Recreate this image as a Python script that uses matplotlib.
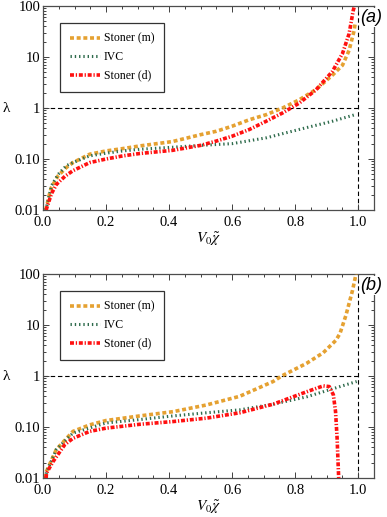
import matplotlib
matplotlib.use("Agg")
import matplotlib.pyplot as plt
from matplotlib.ticker import FixedLocator, FixedFormatter, MultipleLocator, LogLocator, NullFormatter

plt.rcParams['font.family'] = ['Liberation Serif', 'DejaVu Serif']
plt.rcParams['mathtext.fontset'] = 'stix'

# ---- data: panel (a) ----
a_m_x = [0.008, 0.012, 0.02, 0.027, 0.048, 0.074, 0.095, 0.148, 0.2, 0.253, 0.306, 0.411, 0.5, 0.55, 0.6,
         0.655, 0.708, 0.76, 0.813, 0.866, 0.918, 0.95, 0.971, 0.987, 0.99]
a_m_y = [0.01, 0.012, 0.02, 0.028, 0.047, 0.068, 0.085, 0.124, 0.144, 0.16, 0.18, 0.22, 0.30, 0.35, 0.44,
         0.59, 0.74, 1.0, 1.45, 2.3, 4.4, 6.9, 13.5, 33, 45]
a_i_x = [0.008, 0.012, 0.027, 0.048, 0.074, 0.095, 0.148, 0.2, 0.253, 0.306, 0.411, 0.5, 0.6, 0.708,
         0.813, 0.918, 0.99]
a_i_y = [0.01, 0.012, 0.03, 0.05, 0.074, 0.085, 0.115, 0.13, 0.144, 0.155, 0.17, 0.185, 0.20, 0.26,
         0.38, 0.55, 0.74]
a_d_x = [0.01, 0.012, 0.027, 0.043, 0.07, 0.095, 0.148, 0.2, 0.253, 0.306, 0.411, 0.5, 0.55, 0.6, 0.655,
         0.708, 0.76, 0.813, 0.866, 0.918, 0.95, 0.971, 0.984, 0.988]
a_d_y = [0.01, 0.011, 0.021, 0.032, 0.046, 0.059, 0.085, 0.10, 0.115, 0.128, 0.148, 0.185, 0.225, 0.28,
         0.38, 0.55, 0.80, 1.25, 2.27, 5.2, 11.7, 28.6, 81, 100]

# ---- data: panel (b) ----
b_m_x = [0.008, 0.011, 0.042, 0.095, 0.148, 0.2, 0.307, 0.413, 0.518, 0.624, 0.73, 0.757, 0.836, 0.889,
         0.929, 0.942, 0.961, 0.982, 0.993]
b_m_y = [0.01, 0.0135, 0.036, 0.082, 0.11, 0.134, 0.165, 0.20, 0.27, 0.40, 0.78, 1.0, 1.77, 2.86,
         5.0, 6.8, 15.5, 48, 100]
b_i_x = [0.008, 0.011, 0.042, 0.095, 0.2, 0.307, 0.413, 0.518, 0.624, 0.73, 0.836, 0.942, 0.995]
b_i_y = [0.01, 0.013, 0.036, 0.076, 0.12, 0.14, 0.165, 0.19, 0.217, 0.28, 0.39, 0.62, 0.78]
b_d_x = [0.01, 0.011, 0.032, 0.069, 0.095, 0.148, 0.2, 0.307, 0.413, 0.518, 0.624, 0.73, 0.836, 0.889,
         0.908, 0.921, 0.928, 0.933, 0.936, 0.938]
b_d_y = [0.01, 0.0125, 0.021, 0.045, 0.06, 0.082, 0.095, 0.113, 0.128, 0.149, 0.19, 0.28, 0.49, 0.64,
         0.62, 0.43, 0.2, 0.06, 0.02, 0.01]

labels = ["Stoner (m)", "IVC", "Stoner (d)"]
panel_tags = ["(a)", "(b)"]
yticks = [0.01, 0.1, 1, 10, 100]
yticklabels = ["0.01", "0.10", "1", "10", "100"]
xticks = [0.0, 0.2, 0.4, 0.6, 0.8, 1.0]
xticklabels = ["0.0", "0.2", "0.4", "0.6", "0.8", "1.0"]

c_m = "#E5A131"
c_i = "#2E6B4C"
c_d = "#FF1010"

fig = plt.figure(figsize=(3.87, 5.17), dpi=100)
W, H = 387.0, 517.0
left, right = 43, 374
tops = [6, 274]
bots = [210, 478]

panels = [
    ((a_m_x, a_m_y), (a_i_x, a_i_y), (a_d_x, a_d_y)),
    ((b_m_x, b_m_y), (b_i_x, b_i_y), (b_d_x, b_d_y)),
]

for k in range(2):
    ax = fig.add_axes([left / W, 1 - bots[k] / H, (right - left) / W, (bots[k] - tops[k]) / H])
    (mx, my), (ix, iy), (dx, dy) = panels[k]
    ax.set_yscale('log')
    ax.set_xlim(0, 1.05)
    ax.set_ylim(0.01, 100)

    ax.plot([0, 1.0], [1, 1], color='black', lw=0.8, dashes=(4, 2.5), zorder=1)
    ax.plot([1.0, 1.0], [0.01, 100], color='black', lw=0.8, dashes=(4, 2.5), zorder=1)

    ax.plot(mx, my, color=c_m, lw=2.6, dashes=(1.1, 0.75), dash_capstyle='butt', label=labels[0], zorder=3)
    ax.plot(ix, iy, color=c_i, lw=2.2, dashes=(0.45, 0.95), dash_capstyle='butt', label=labels[1], zorder=3)
    ax.plot(dx, dy, color=c_d, lw=2.6, dashes=(1.1, 0.5, 0.35, 0.5), dash_capstyle='butt', label=labels[2], zorder=4)

    ax.yaxis.set_major_locator(FixedLocator(yticks))
    ax.yaxis.set_major_formatter(FixedFormatter(yticklabels))
    ax.yaxis.set_minor_locator(LogLocator(base=10, subs=range(2, 10)))
    ax.yaxis.set_minor_formatter(NullFormatter())
    ax.xaxis.set_major_locator(FixedLocator(xticks))
    ax.xaxis.set_major_formatter(FixedFormatter(xticklabels))
    ax.xaxis.set_minor_locator(MultipleLocator(0.05))

    ax.tick_params(which='both', direction='in', top=True, right=True, labelsize=10.5,
                   color='0.25', width=0.7)
    ax.tick_params(axis='y', pad=2)
    ax.tick_params(axis='x', pad=4)
    ax.tick_params(which='major', length=4)
    ax.tick_params(which='minor', length=2.2)
    for s in ax.spines.values():
        s.set_color('0.3')
        s.set_linewidth(0.9)

    ax.set_xlabel(r'$V_0\tilde{\chi}$', fontsize=11, labelpad=1)
    ax.set_ylabel('λ', rotation=0, fontsize=11)
    ax.yaxis.set_label_coords(-0.11, 0.5)
    ax.yaxis.label.set_va('center')

    leg = ax.legend(loc='upper left', bbox_to_anchor=(0.05, 0.918), fontsize=8.5, frameon=True,
                    fancybox=False, edgecolor='black', handlelength=2.6, handletextpad=0.3,
                    labelspacing=0.55, borderpad=0.85, borderaxespad=0.0)
    leg.get_frame().set_linewidth(0.9)

    ax.text(0.992, 0.985, panel_tags[k], transform=ax.transAxes, ha='center', va='top',
            fontsize=13, family=['Liberation Sans', 'DejaVu Sans'], style='italic',
            bbox=dict(facecolor='white', edgecolor='none', pad=0.5), zorder=10, clip_on=False)

fig.savefig('out.png', dpi=100)
